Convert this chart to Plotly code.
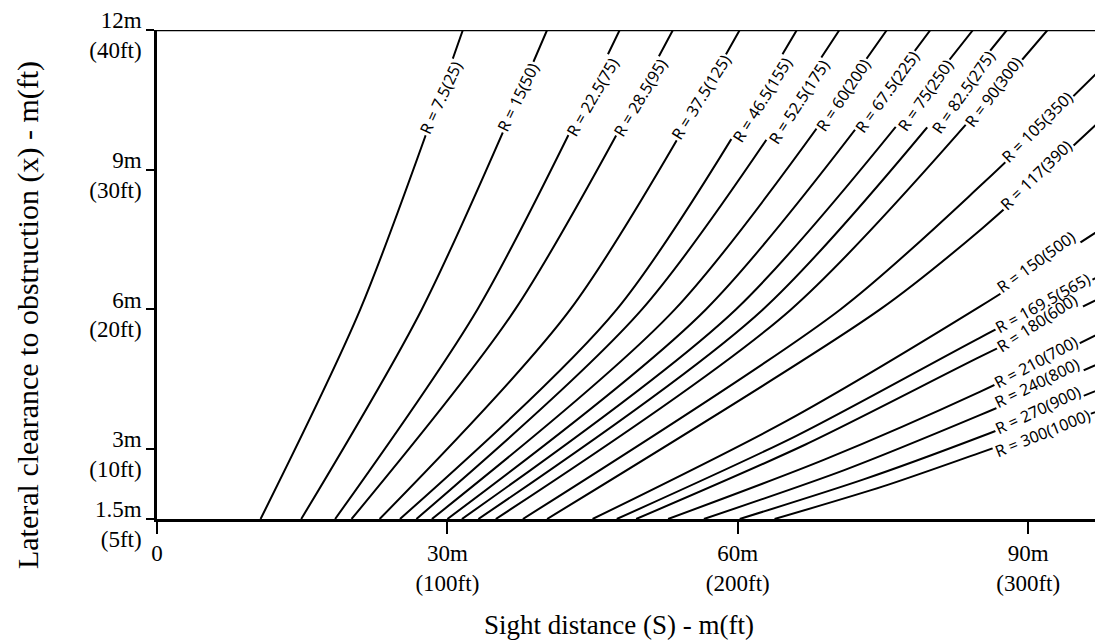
import plotly.graph_objects as go

# curve radii, metres and feet
radius_m = ["7.5", "15", "22.5", "28.5", "37.5", "46.5", "52.5", "60", "67.5", "75",
            "82.5", "90", "105", "117", "150", "169.5", "180", "210", "240", "270", "300"]
radius_ft = ["25", "50", "75", "95", "125", "155", "175", "200", "225", "250",
             "275", "300", "350", "390", "500", "565", "600", "700", "800", "900", "1000"]

# sight distance S (m) and lateral clearance x (m) along each curve
curve_s = [
    [10.7, 21.0, 31.6],
    [14.9, 27.35, 40.3],
    [18.4, 33.1, 47.8],
    [20.1, 37.0, 53.3],
    [23.0, 42.7, 60.2],
    [25.1, 47.5, 66.1],
    [26.8, 50.1, 70.5],
    [28.4, 53.5, 75.4],
    [30.0, 56.7, 79.9],
    [31.5, 59.8, 84.3],
    [33.2, 62.6, 87.8],
    [35.0, 65.5, 92.0],
    [37.8, 70.6, 85.5, 97.7],
    [40.3, 74.7, 85.3, 97.7],
    [45.0, 65.0, 85.0, 97.7],
    [47.5, 66.0, 85.0, 97.7],
    [49.5, 67.0, 85.0, 97.7],
    [52.8, 69.0, 85.0, 97.7],
    [56.5, 71.0, 85.0, 97.7],
    [60.2, 73.0, 85.0, 97.7],
    [63.8, 75.0, 85.0, 97.7],
]
curve_x = [
    [1.5, 6, 12], [1.5, 6, 12], [1.5, 6, 12], [1.5, 6, 12], [1.5, 6, 12], [1.5, 6, 12],
    [1.5, 6, 12], [1.5, 6, 12], [1.5, 6, 12], [1.5, 6, 12], [1.5, 6, 12], [1.5, 6, 12],
    [1.5, 6, 8.74, 11.2],
    [1.5, 6, 7.75, 10.1],
    [1.5, 3.6, 6.06, 7.75],
    [1.5, 3.28, 5.39, 6.75],
    [1.5, 3.1, 4.98, 6.27],
    [1.5, 2.78, 4.23, 5.52],
    [1.5, 2.55, 3.73, 4.87],
    [1.5, 2.35, 3.26, 4.31],
    [1.5, 2.2, 2.92, 3.85],
]

# label placement (data units) and slope of the text, degrees
label_s = [29.3, 37.3, 45.0, 49.9, 56.2, 62.5, 66.3, 70.9, 75.4, 79.4, 83.3, 86.4,
           90.9, 90.8, 90.8, 91.5, 90.9, 90.8, 90.9, 91.0, 91.5]
label_x = [10.54, 10.56, 10.56, 10.54, 10.56, 10.50, 10.45, 10.60, 10.67, 10.60, 10.67, 10.67,
           9.92, 8.89, 7.02, 6.14, 5.71, 4.87, 4.42, 3.84, 3.35]
label_angle = [65, 64, 60, 59, 58, 58, 57, 56, 54, 55, 55, 53,
               45, 44, 36, 29, 33, 28, 26, 25, 22]

s_ticks = [0, 30, 60, 90]
s_ticktext = ["0", "30m<br>(100ft)", "60m<br>(200ft)", "90m<br>(300ft)"]
x_ticks = [1.5, 3, 6, 9, 12]
x_ticktext = ["1.5m<br>(5ft)", "3m<br>(10ft)", "6m<br>(20ft)", "9m<br>(30ft)", "12m<br>(40ft)"]

S_MAX = 97.73
SERIF = "Liberation Serif, Times New Roman, serif"
SANS = "Noto Sans, Open Sans, sans-serif"

fig = go.Figure()

for s, x in zip(curve_s, curve_x):
    fig.add_trace(
        go.Scatter(
            x=s,
            y=x,
            mode="lines",
            line=dict(color="black", width=2, shape="spline", smoothing=0.8),
            hoverinfo="skip",
            showlegend=False,
        )
    )

labels = [f"R = {rm}({rf})" for rm, rf in zip(radius_m, radius_ft)]

# white boxes first (they open the gap in each curve), then the texts on top
for with_text in (False, True):
    for text, ls, lx, ang in zip(labels, label_s, label_x, label_angle):
        fig.add_annotation(
            x=ls,
            y=lx,
            xref="x",
            yref="y",
            text=text,
            showarrow=False,
            textangle=-ang,
            bgcolor="rgba(0,0,0,0)" if with_text else "white",
            borderpad=1,
            font=dict(family=SANS, size=16,
                      color="black" if with_text else "rgba(0,0,0,0)"),
        )

# top border line
fig.add_shape(type="line", xref="x", yref="y", x0=0, x1=S_MAX, y0=12, y1=12,
              line=dict(color="black", width=2.5), layer="above")

fig.add_annotation(
    text="Sight distance (S) - m(ft)",
    xref="paper", yref="paper", x=0.488, y=-0.217, yanchor="middle",
    showarrow=False, font=dict(family=SERIF, size=27, color="black"),
)
fig.add_annotation(
    text="Lateral clearance to obstruction (x) - m(ft)",
    xref="paper", yref="paper", x=-0.1565, y=0.417, xanchor="left", yanchor="middle",
    textangle=-90,
    showarrow=False, font=dict(family=SERIF, size=30, color="black"),
)

fig.update_xaxes(
    range=[0, S_MAX],
    tickvals=s_ticks,
    ticktext=s_ticktext,
    showgrid=False,
    zeroline=False,
    showline=True,
    linecolor="black",
    linewidth=2.5,
    ticks="outside",
    ticklen=12,
    tickwidth=2,
    tickcolor="black",
    automargin=False,
    ticklabeloverflow="allow",
    tickfont=dict(family=SERIF, size=23, color="black"),
)
fig.update_yaxes(
    range=[1.5, 12],
    tickvals=x_ticks,
    ticktext=x_ticktext,
    showgrid=False,
    zeroline=False,
    showline=True,
    linecolor="black",
    linewidth=2.5,
    ticks="outside",
    ticklen=8,
    tickwidth=2,
    tickcolor="black",
    automargin=False,
    ticklabeloverflow="allow",
    ticklabelshift=5,
    tickfont=dict(family=SERIF, size=23, color="black"),
)

# the page body adds an 8px margin, so the figure is 8px smaller than the window
fig.update_layout(
    width=1095,
    height=635,
    margin=dict(l=149, r=0, t=22, b=124),
    plot_bgcolor="white",
    paper_bgcolor="white",
)

fig.write_html("out.html")
